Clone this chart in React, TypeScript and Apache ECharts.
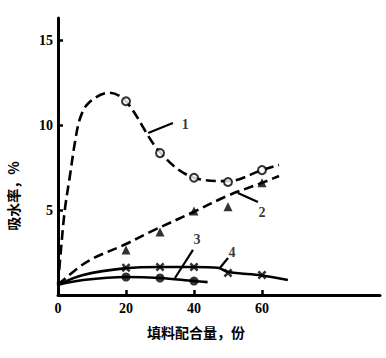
import React, { useEffect, useRef } from "react";
import * as echarts from "echarts";

// Curve 1 (dashed, open circles)
const s1Line = [[0, 0.6], [0.8, 2.5], [2, 5], [3.5, 7], [5, 9], [6.5, 10.4], [9, 11.3], [15, 11.9], [20, 11.4], [30, 8.4], [40, 6.9], [50, 6.7], [60, 7.35], [65, 7.65]];
const s1Marks = [[20, 11.4], [30, 8.35], [40, 6.9], [50, 6.65], [60, 7.35]];
// Curve 2 (dashed, triangles)
const s2Line = [[0, 0.6], [8.5, 1.95], [20, 3.0], [27, 3.7], [40, 4.9], [50, 5.85], [60, 6.6], [65, 7.0]];
const s2Marks = [[20, 2.65], [30, 3.7], [40, 4.95], [50, 5.2], [60, 6.6]];
// Curve 3 (solid, filled circles)
const s3Line = [[0, 0.6], [7.4, 0.88], [20, 1.06], [30, 1.0], [40, 0.82], [44, 0.76]];
const s3Marks = [[20, 1.06], [30, 1.0], [40, 0.82]];
// Curve 4 (solid, crosses)
const s4Line = [[0, 0.6], [7.4, 1.18], [20, 1.58], [30, 1.65], [40, 1.65], [47, 1.6], [50, 1.35], [60, 1.15], [67.6, 0.88]];
const s4Marks = [[20, 1.6], [30, 1.65], [40, 1.65], [50, 1.3], [60, 1.18]];

const xTicks = [0, 20, 40, 60];
const yTicks = [5, 10, 15];

// Curve number labels and leader lines (data coordinates)
const curveLabels = [[37.4, 10.06, "1"], [60, 4.88, "2"], [40.9, 3.24, "3"], [51.2, 2.53, "4"]];
const leaders = [
  [[26.5, 9.53], [33.8, 10.12]],
  [[52.9, 6.0], [58.8, 5.47]],
  [[39.7, 2.65], [34.4, 1.0]],
  [[50, 2.18], [47.6, 1.59]],
];

const serif = "'Liberation Serif', 'DejaVu Serif', serif";
const cjk = "'Noto Sans CJK SC', sans-serif";
const crossPath = "path://M0,2L2,0L5,3L8,0L10,2L7,5L10,8L8,10L5,7L2,10L0,8L3,5Z";

export default function App() {
  const ref = useRef<HTMLDivElement>(null);
  useEffect(() => {
    if (!ref.current) return;
    const chart = echarts.init(ref.current, null, { renderer: "svg" });
    const lineBase = (data: number[][], dashed: boolean) => ({
      type: "line",
      data,
      smooth: 0.35,
      showSymbol: false,
      symbol: "none",
      lineStyle: { color: "#000", width: 2.6, type: dashed ? [10, 5] : "solid" },
      z: 2,
    });
    chart.setOption({
      animation: false,
      backgroundColor: "#fff",
      grid: { left: 58, right: 6, top: 18, bottom: 63 },
      xAxis: {
        type: "value",
        min: 0,
        max: 94.7,
        interval: 20,
        splitLine: { show: false },
        axisLine: { lineStyle: { color: "#000", width: 3 } },
        axisTick: { show: true, inside: true, length: 5, lineStyle: { color: "#000", width: 2.5 }, customValues: [20, 40, 60] },
        axisLabel: { customValues: xTicks, color: "#000", fontFamily: serif, fontWeight: "bold", fontSize: 14, margin: 6 },
      },
      yAxis: {
        type: "value",
        min: 0,
        max: 16.3,
        interval: 5,
        splitLine: { show: false },
        axisLine: { lineStyle: { color: "#000", width: 3 } },
        axisTick: { show: true, inside: true, length: 5, lineStyle: { color: "#000", width: 2.5 }, customValues: yTicks },
        axisLabel: { customValues: yTicks, color: "#000", fontFamily: serif, fontWeight: "bold", fontSize: 14, margin: 5 },
      },
      series: [
        lineBase(s1Line, true),
        lineBase(s2Line, true),
        lineBase(s3Line, false),
        lineBase(s4Line, false),
        { type: "scatter", data: s1Marks, symbol: "circle", symbolSize: 8, itemStyle: { color: "#fff", borderColor: "#000", borderWidth: 2 }, z: 3 },
        { type: "scatter", data: s2Marks, symbol: "triangle", symbolSize: 9, itemStyle: { color: "#000" }, z: 3 },
        { type: "scatter", data: s3Marks, symbol: "circle", symbolSize: 9, itemStyle: { color: "#000" }, z: 3 },
        { type: "scatter", data: s4Marks, symbol: crossPath, symbolSize: 9, itemStyle: { color: "#000" }, z: 3 },
        {
          type: "lines",
          coordinateSystem: "cartesian2d",
          data: leaders.map((c) => ({ coords: c })),
          lineStyle: { color: "#000", width: 2.2, opacity: 1 },
          symbol: "none",
          z: 4,
        },
        {
          type: "scatter",
          data: curveLabels,
          symbolSize: 1,
          itemStyle: { color: "rgba(0,0,0,0)" },
          label: {
            show: true,
            position: "inside",
            formatter: (p: any) => p.value[2],
            color: "#000",
            fontFamily: serif,
            fontWeight: "bold",
            fontSize: 14,
          },
          z: 5,
        },
      ],
      graphic: [
        {
          type: "text",
          x: 196,
          y: 332,
          style: { text: "填料配合量，份", font: `bold 14px ${cjk}`, fill: "#000", align: "center", verticalAlign: "middle" },
        },
        {
          type: "text",
          x: 13,
          y: 196,
          rotation: Math.PI / 2,
          style: { text: "吸水率，%", font: `bold 14px ${cjk}`, fill: "#000", align: "center", verticalAlign: "middle" },
        },
      ],
    });
    return () => chart.dispose();
  }, []);
  return <div ref={ref} style={{ position: "fixed", left: 0, top: 0, width: 386, height: 358 }} />;
}
